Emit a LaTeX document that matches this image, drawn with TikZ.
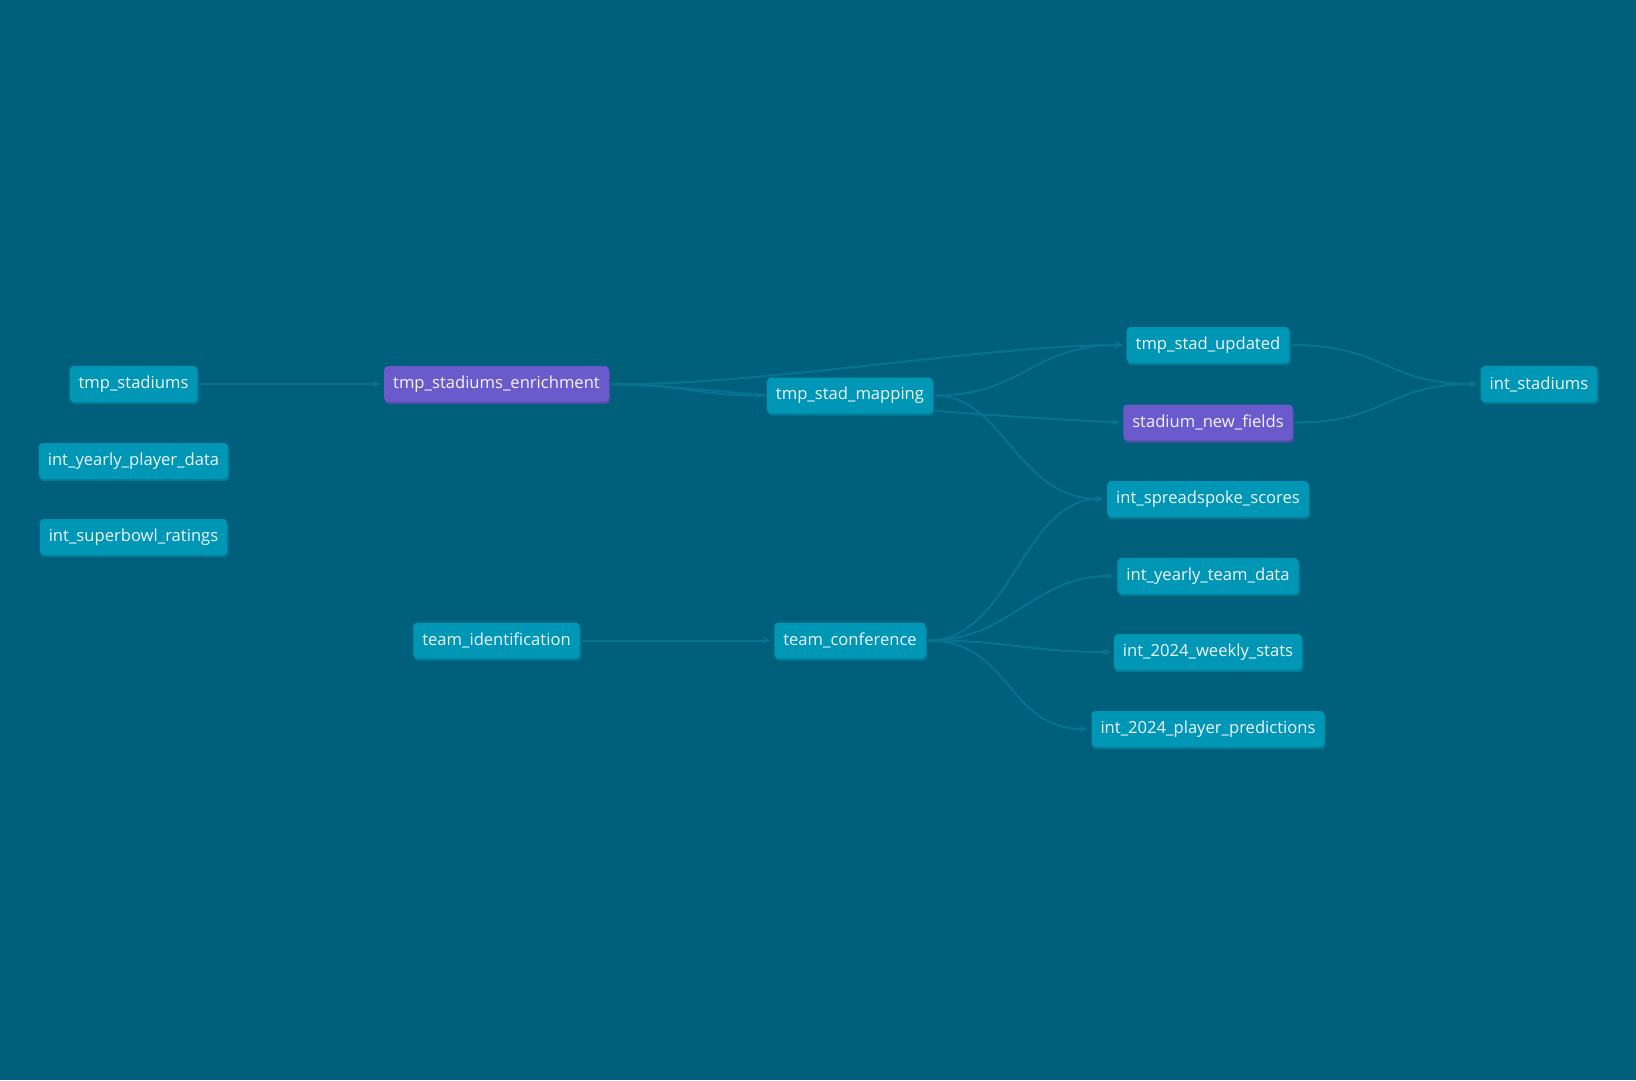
\documentclass[tikz,border=0pt]{standalone}
\usepackage{fontspec}
\setmainfont{Open Sans}
\usetikzlibrary{shadows,arrows.meta}

\definecolor{bgcol}{RGB}{0,95,122}
\definecolor{tealnode}{RGB}{0,150,181}
\definecolor{tealshadow}{RGB}{3,122,150}
\definecolor{purplenode}{RGB}{107,90,204}
\definecolor{purpleshadow}{RGB}{78,76,163}
\definecolor{edgecol}{RGB}{8,114,145}
\definecolor{nodetext}{RGB}{240,246,250}

\pgfdeclarelayer{canvas}
\pgfdeclarelayer{edges}
\pgfsetlayers{canvas,edges,main}

\begin{document}
\begin{tikzpicture}[x=1pt,y=-1pt,
  boxbase/.style={rounded corners=4pt, text=nodetext, inner xsep=9pt,
    inner ysep=0pt, minimum height=36pt,
    font=\fontsize{16.6}{19}\selectfont},
  model/.style={boxbase, fill=tealnode,
    general shadow={fill=tealshadow, shadow xshift=1.2pt, shadow yshift=-2.2pt}},
  seed/.style={boxbase, fill=purplenode,
    general shadow={fill=purpleshadow, shadow xshift=1.2pt, shadow yshift=-2.2pt}},
  flow/.style={draw=edgecol, line width=2pt,
    -{Stealth[length=8.5pt,width=7pt]}, shorten >=3pt, shorten <=2pt}]

\begin{pgfonlayer}{canvas}
  \fill[bgcol] (0,0) rectangle (1636,1080);
\end{pgfonlayer}
\useasboundingbox (0,0) rectangle (1636,1080);

% left column
\node[model] (stad)  at (133.5,384) {tmp\_stadiums};
\node[model] (yply)  at (133.5,461) {int\_yearly\_player\_data};
\node[model] (sbr)   at (133.5,537) {int\_superbowl\_ratings};

% second column
\node[seed]  (enr)   at (496.5,384) {tmp\_stadiums\_enrichment};
\node[model] (tid)   at (496.5,640.5) {team\_identification};

% third column
\node[model] (map)   at (850,395.5) {tmp\_stad\_mapping};
\node[model] (conf)  at (850,640.5) {team\_conference};

% fourth column
\node[model] (upd)   at (1208,345) {tmp\_stad\_updated};
\node[seed]  (newf)  at (1208,422.5) {stadium\_new\_fields};
\node[model] (spr)   at (1208,499) {int\_spreadspoke\_scores};
\node[model] (ytd)   at (1208,576) {int\_yearly\_team\_data};
\node[model] (wks)   at (1208,652) {int\_2024\_weekly\_stats};
\node[model] (pred)  at (1208,729) {int\_2024\_player\_predictions};

% last column
\node[model] (ints)  at (1539,384) {int\_stadiums};

\begin{pgfonlayer}{edges}
  \draw[flow] (stad.east) -- (enr.west);
  \draw[flow] (enr.east) .. controls +(150,2) and +(-140,0) .. (upd.west);
  \draw[flow] (enr.east) .. controls +(70,0) and +(-70,0) .. (map.west);
  \draw[flow] (enr.east) .. controls +(110,3) and +(-230,-10) .. (newf.west);
  \draw[flow] (map.east) .. controls +(90,0) and +(-95,0) .. (upd.west);
  \draw[flow] (map.east) .. controls +(70,0) and +(-90,0) .. (spr.west);
  \draw[flow] (upd.east) .. controls +(95,0) and +(-95,0) .. (ints.west);
  \draw[flow] (newf.east) .. controls +(95,0) and +(-95,0) .. (ints.west);
  \draw[flow] (tid.east) -- (conf.west);
  \draw[flow] (conf.east) .. controls +(85,0) and +(-85,0) .. (spr.west);
  \draw[flow] (conf.east) .. controls +(85,0) and +(-85,0) .. (ytd.west);
  \draw[flow] (conf.east) .. controls +(85,0) and +(-85,0) .. (wks.west);
  \draw[flow] (conf.east) .. controls +(85,0) and +(-85,0) .. (pred.west);
\end{pgfonlayer}
\end{tikzpicture}
\end{document}
